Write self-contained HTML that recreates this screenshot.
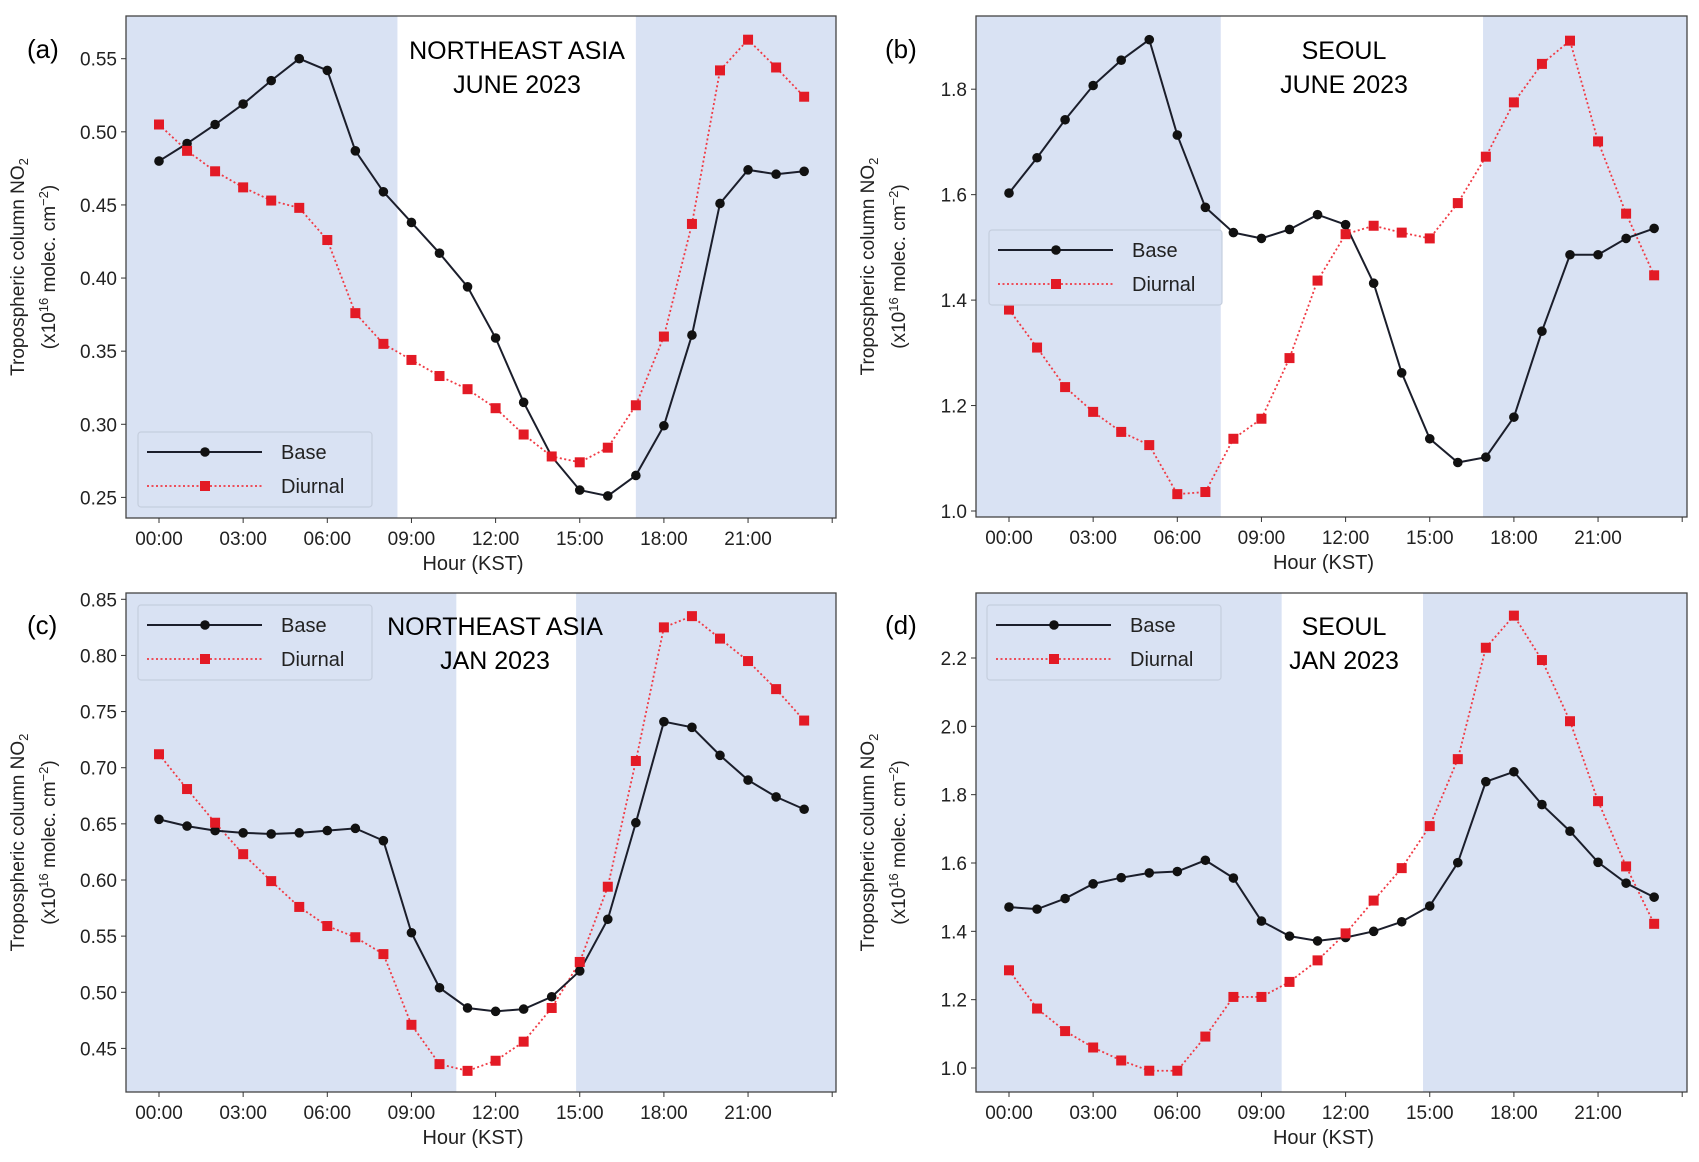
<!DOCTYPE html>
<html><head><meta charset="utf-8"><style>
html,body{margin:0;padding:0;background:#fff;}
svg{display:block;font-family:"Liberation Sans",sans-serif;}
</style></head><body>
<svg id="fig" width="1699" height="1162" viewBox="0 0 1699 1162" xmlns="http://www.w3.org/2000/svg"></svg>
<script>
const hours=[0,1,2,3,4,5,6,7,8,9,10,11,12,13,14,15,16,17,18,19,20,21,22,23];
const xTickHours=[0,3,6,9,12,15,18,21,24];
const xTickLabels=["00:00","03:00","06:00","09:00","12:00","15:00","18:00","21:00",""];
const baseA=[0.480,0.492,0.505,0.519,0.535,0.550,0.542,0.487,0.459,0.438,0.417,0.394,0.359,0.315,0.278,0.255,0.251,0.265,0.299,0.361,0.451,0.474,0.471,0.473];
const diurA=[0.505,0.487,0.473,0.462,0.453,0.448,0.426,0.376,0.355,0.344,0.333,0.324,0.311,0.293,0.278,0.274,0.284,0.313,0.360,0.437,0.542,0.563,0.544,0.524];
const baseB=[1.603,1.670,1.742,1.807,1.855,1.894,1.713,1.576,1.528,1.517,1.534,1.562,1.543,1.432,1.262,1.137,1.092,1.102,1.178,1.341,1.486,1.486,1.517,1.536];
const diurB=[1.382,1.310,1.235,1.188,1.150,1.125,1.032,1.036,1.137,1.175,1.290,1.437,1.525,1.541,1.528,1.517,1.584,1.672,1.775,1.848,1.892,1.701,1.564,1.447];
const baseC=[0.654,0.648,0.644,0.642,0.641,0.642,0.644,0.646,0.635,0.553,0.504,0.486,0.483,0.485,0.496,0.519,0.565,0.651,0.741,0.736,0.711,0.689,0.674,0.663];
const diurC=[0.712,0.681,0.651,0.623,0.599,0.576,0.559,0.549,0.534,0.471,0.436,0.430,0.439,0.456,0.486,0.527,0.594,0.706,0.825,0.835,0.815,0.795,0.770,0.742];
const baseD=[1.471,1.465,1.496,1.539,1.557,1.571,1.575,1.608,1.556,1.430,1.386,1.372,1.382,1.400,1.428,1.474,1.601,1.838,1.867,1.771,1.693,1.602,1.541,1.500];
const diurD=[1.286,1.174,1.108,1.060,1.022,0.992,0.992,1.092,1.208,1.208,1.252,1.315,1.394,1.490,1.585,1.708,1.904,2.230,2.324,2.194,2.015,1.781,1.590,1.422];
const yTicksA=[0.25,0.30,0.35,0.40,0.45,0.50,0.55];
const yTicksB=[1.0,1.2,1.4,1.6,1.8];
const yTicksC=[0.45,0.50,0.55,0.60,0.65,0.70,0.75,0.80,0.85];
const yTicksD=[1.0,1.2,1.4,1.6,1.8,2.0,2.2];
const shadeA=[8.5,17.0], shadeB=[7.55,16.9], shadeC=[10.6,14.87], shadeD=[9.72,14.76];

const NS="http://www.w3.org/2000/svg";
const svg=document.getElementById('fig');
function mk(tag,attrs,parent){const e=document.createElementNS(NS,tag);for(const k in attrs)e.setAttribute(k,attrs[k]);(parent||svg).appendChild(e);return e;}

const panels=[
 {id:'a',L:126,R:836,T:16,B:518,y0v:0.55,y0p:58.7,y1v:0.25,y1p:497.4,ticks:yTicksA,dec:2,base:baseA,diur:diurA,shade:shadeA,title:["NORTHEAST ASIA","JUNE 2023"],tx:517,ty:[50,84],leg:{x:138,y:432,w:234,h:75},lbl:[27,48]},
 {id:'b',L:976,R:1687,T:16,B:517,y0v:1.8,y0p:89.2,y1v:1.0,y1p:511,ticks:yTicksB,dec:1,base:baseB,diur:diurB,shade:shadeB,title:["SEOUL","JUNE 2023"],tx:1344,ty:[50,84],leg:{x:989,y:230,w:233,h:75},lbl:[885,48]},
 {id:'c',L:126,R:836,T:593,B:1092,y0v:0.85,y0p:599.3,y1v:0.45,y1p:1048.4,ticks:yTicksC,dec:2,base:baseC,diur:diurC,shade:shadeC,title:["NORTHEAST ASIA","JAN 2023"],tx:495,ty:[626,660],leg:{x:138,y:605,w:234,h:75},lbl:[27,624]},
 {id:'d',L:976,R:1687,T:593,B:1092,y0v:2.2,y0p:658,y1v:1.0,y1p:1068,ticks:yTicksD,dec:1,base:baseD,diur:diurD,shade:shadeD,title:["SEOUL","JAN 2023"],tx:1344,ty:[626,660],leg:{x:987,y:605,w:234,h:75},lbl:[885,624]}
];

panels.forEach(p=>{
 const x0=p.L+33; const perH=28.05;
 const X=h=>x0+h*perH;
 const Y=v=>p.y0p+(v-p.y0v)*(p.y1p-p.y0p)/(p.y1v-p.y0v);
 const g=mk('g',{});
 
 
 const s1=mk('rect',{x:p.L,y:p.T,width:X(p.shade[0])-p.L,height:p.B-p.T,fill:'#d9e2f3'},g);
 
 
 const s2=mk('rect',{x:X(p.shade[1]),y:p.T,width:p.R-X(p.shade[1]),height:p.B-p.T,fill:'#d9e2f3'},g);
 
 
 const fr=mk('rect',{x:p.L,y:p.T,width:p.R-p.L,height:p.B-p.T,fill:'none',stroke:'#444',"stroke-width":1.3},g);
 
 
 xTickHours.forEach((h,i)=>{
  mk('line',{x1:X(h),x2:X(h),y1:p.B,y2:p.B+5,stroke:'#333','stroke-width':1},g);
  const t=mk('text',{x:X(h),y:p.B+27,'text-anchor':'middle','font-size':19,fill:'#222'},g);
  t.textContent=xTickLabels[i];
  
  
 });
 const xl=mk('text',{x:(p.L+p.R)/2-8,y:p.B+52,'text-anchor':'middle','font-size':20,fill:'#222'},g);
 xl.textContent='Hour (KST)';
 
 
 p.ticks.forEach(v=>{
  mk('line',{x1:p.L-5,x2:p.L,y1:Y(v),y2:Y(v),stroke:'#333','stroke-width':1},g);
  const t=mk('text',{x:p.L-9,y:Y(v)+7,'text-anchor':'end','font-size':19,fill:'#222'},g);
  t.textContent=v.toFixed(p.dec);
  
  
 });
 const yc=(p.T+p.B)/2; const yx=p.L-102;
 const yl=mk('text',{x:0,y:0,'text-anchor':'middle','font-size':19,fill:'#222',transform:`translate(${yx},${yc}) rotate(-90)`},g);
 yl.innerHTML='Tropospheric column NO<tspan font-size="13" dy="4">2</tspan>';
 
 
 const yl2=mk('text',{x:0,y:0,'text-anchor':'middle','font-size':19,fill:'#222',transform:`translate(${yx+31},${yc}) rotate(-90)`},g);
 yl2.innerHTML='(x10<tspan font-size="13" dy="-7">16</tspan><tspan dy="7"> molec. cm</tspan><tspan font-size="13" dy="-7">−2</tspan><tspan dy="7">)</tspan>';
 
 
 const dpts=hours.map((h,i)=>X(h)+','+Y(p.diur[i])).join(' ');
 const dl=mk('polyline',{points:dpts,fill:'none',stroke:'#f03a44','stroke-width':1.8,'stroke-dasharray':'2,2.5'},g);
 
 
 const bpts=hours.map((h,i)=>X(h)+','+Y(p.base[i])).join(' ');
 const bl=mk('polyline',{points:bpts,fill:'none',stroke:'#1b1e2b','stroke-width':2},g);
 
 
 hours.forEach((h,i)=>{
  const c=mk('circle',{cx:X(h),cy:Y(p.base[i]),r:4.8,fill:'#111'},g);
  
  
 });
 hours.forEach((h,i)=>{
  const r=mk('rect',{x:X(h)-5,y:Y(p.diur[i])-5,width:10,height:10,fill:'#e31a25'},g);
  
  
 });
 p.title.forEach((tt,k)=>{
  const t=mk('text',{x:p.tx,y:p.ty[k]+9,'text-anchor':'middle','font-size':25,fill:'#000'},g);
  t.textContent=tt;
  
  
 });
 const lb=mk('text',{x:p.lbl[0],y:p.lbl[1]+10,'font-size':26,fill:'#000'},g);
 lb.textContent='('+p.id+')';
 
 
 const L=p.leg;
 const lg=mk('g',{},g);
 
 
 mk('rect',{x:L.x,y:L.y,width:L.w,height:L.h,rx:3,fill:'#d9e2f3',stroke:'#c5cede','stroke-width':1.2},lg);
 const e1y=L.y+20, e2y=L.y+54;
 mk('line',{x1:L.x+9,x2:L.x+124,y1:e1y,y2:e1y,stroke:'#1b1e2b','stroke-width':2},lg);
 mk('circle',{cx:L.x+67,cy:e1y,r:4.8,fill:'#111'},lg);
 const t1=mk('text',{x:L.x+143,y:e1y+7,'font-size':20,fill:'#222'},lg);
 t1.textContent='Base';
 
 
 mk('line',{x1:L.x+9,x2:L.x+124,y1:e2y,y2:e2y,stroke:'#f03a44','stroke-width':1.8,'stroke-dasharray':'2,2.5'},lg);
 mk('rect',{x:L.x+62,y:e2y-5,width:10,height:10,fill:'#e31a25'},lg);
 const t2=mk('text',{x:L.x+143,y:e2y+7,'font-size':20,fill:'#222'},lg);
 t2.textContent='Diurnal';
 
 
});
</script>
</body></html>
